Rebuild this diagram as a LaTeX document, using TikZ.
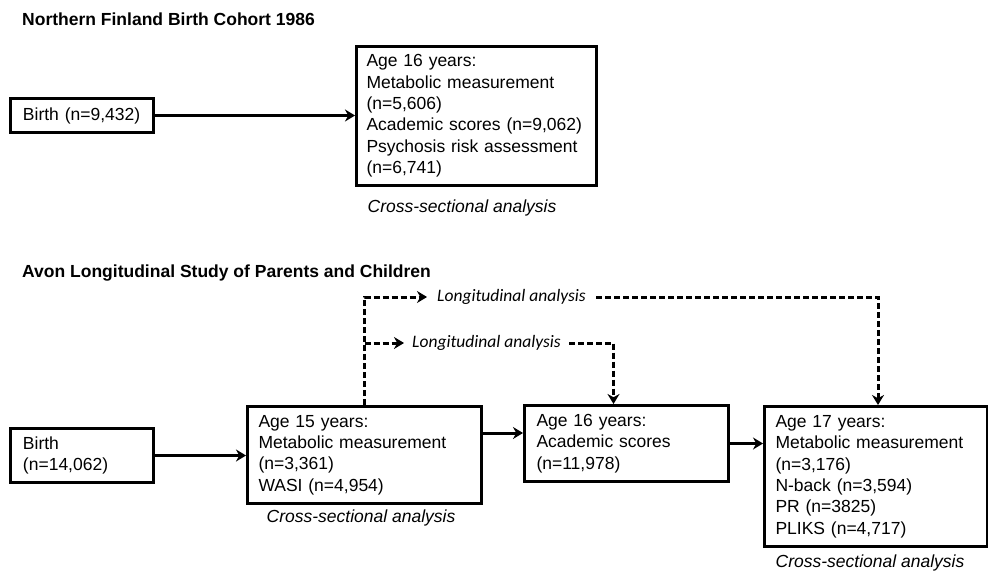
\documentclass[tikz,border=0pt]{standalone}
\usepackage{fontspec}
\setmainfont{Liberation Sans}
\newfontfamily\calib{Carlito}
\usetikzlibrary{arrows.meta,calc}
\begin{document}
\begin{tikzpicture}[x=1pt,y=-1pt,
  box/.style={draw, line width=3pt, rectangle, anchor=north west, inner ysep=0pt, align=left,
    font=\fontsize{17.5}{21.4}\selectfont},
  ttl/.style={anchor=west, font=\fontsize{17.5}{21}\selectfont\bfseries, inner sep=0pt},
  xs/.style={font=\fontsize{17.5}{21}\selectfont\itshape, inner sep=0pt},
  lg/.style={font=\fontsize{17.5}{21}\selectfont\calib\itshape, inner ysep=0pt, anchor=west},
  arr/.style={line width=3pt, -{Stealth[length=10pt,width=12pt]}},
  darr/.style={line width=3pt, dash pattern=on 6pt off 3pt, -{Stealth[length=10pt,width=12pt]}},
]
\fill[white] (0,0) rectangle (988,572);
\useasboundingbox (0,0) rectangle (988,572);

% titles
\node[ttl] (t1) at (22,19) {Northern Finland Birth Cohort 1986};
\node[ttl] (t2) at (22,273) {Avon Longitudinal Study of Parents and Children};

% NFBC
\node[box, text width=118pt, inner xsep=12.5pt, minimum height=34pt] (b1) at (9,97) {Birth (n=9,432)};
\node[box, text width=220pt, inner xsep=10pt, minimum height=139pt] (n16) at (355,45)
  {Age 16 years:\\Metabolic measurement\\(n=5,606)\\Academic scores (n=9,062)\\Psychosis risk assessment\\(n=6,741)};
\node[xs] (c1) at (462,208) {Cross-sectional analysis};

% ALSPAC
\node[box, text width=118pt, inner xsep=12.5pt, minimum height=54pt] (b2) at (9,427) {Birth\\(n=14,062)};
\node[box, text width=212pt, inner xsep=11pt, minimum height=97pt] (a15) at (246,405)
  {Age 15 years:\\Metabolic measurement\\(n=3,361)\\WASI (n=4,954)};
\node[box, text width=180pt, inner xsep=12pt, minimum height=76pt] (a16) at (523,404)
  {Age 16 years:\\Academic scores\\(n=11,978)};
\node[box, text width=201pt, inner xsep=11pt, minimum height=140pt] (a17) at (763,405)
  {Age 17 years:\\Metabolic measurement\\(n=3,176)\\N-back (n=3,594)\\PR (n=3825)\\PLIKS (n=4,717)};
\node[xs] (c2) at (361,518) {Cross-sectional analysis};
\node[xs] (c3) at (870,563) {Cross-sectional analysis};

\node[lg, inner xsep=10pt] (l1) at (427,297) {Longitudinal analysis};
\node[lg, inner xsep=8pt] (l2) at (404,343) {Longitudinal analysis};

% solid connectors
\draw[arr] (b1.east) -- (b1.east -| n16.west);
\draw[arr] (b2.east) -- (b2.east -| a15.west);
\draw[arr] ([yshift=22pt]a15.east) -- ([yshift=22pt]a15.east -| a16.west);
\draw[arr] (a16.east) -- (a16.east -| a17.west);

% dashed connectors
\draw[darr] (a15.north) |- (l1.west);
\draw[darr] (a15.north |- l2.west) -- (l2.west);
\draw[darr] (l1.east) -| ([xshift=2pt]a17.north);
\draw[darr] (l2.east) -| ([xshift=-13pt]a16.north);
\end{tikzpicture}
\end{document}
